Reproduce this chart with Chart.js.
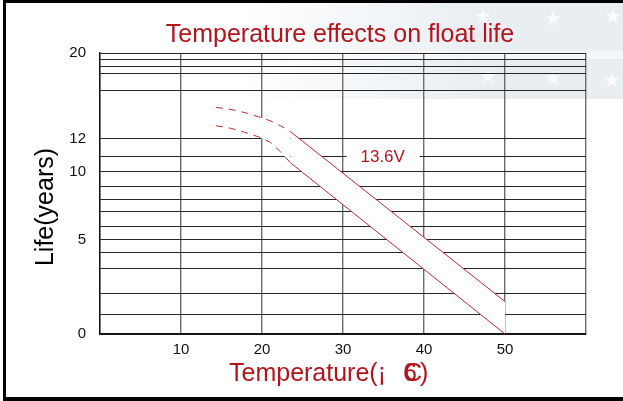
<!DOCTYPE html>
<html>
<head>
<meta charset="utf-8">
<script src="https://cdn.jsdelivr.net/npm/chart.js@4.4.1/dist/chart.umd.min.js"></script>
<style>
html,body{margin:0;padding:0;background:#fff;}
#wrap{width:623px;height:401px;position:relative;}
</style>
</head>
<body>
<div id="wrap"><canvas id="c" width="623" height="401"></canvas></div>
<script>
// ---- data ----
const temperatureGrid = [0, 10, 20, 30, 40, 50, 60];
const temperatureLabels = [10, 20, 30, 40, 50];
const lifeGridValues = [0, 1, 2, 3, 4, 5, 6, 7, 8, 9, 10, 11, 12, 15, 17, 18, 19, 20];
const lifeLabels = [0, 5, 10, 12, 20];

const upperTemp = [14.3, 16.2, 18, 19.6, 21, 22.3, 23.5, 50];
const upperLife = [13.95, 13.82, 13.61, 13.35, 13.11, 12.79, 12.43, 1.6];
const lowerTemp = [14.3, 16.2, 18, 19.6, 21, 22.3, 23.5, 50];
const lowerLife = [12.80, 12.63, 12.36, 12.09, 11.79, 11.25, 10.59, 0];
const dashedUntil = 23.5;          // curves are dashed below this temperature
const bandLabel = '13.6V';
const chartTitle = 'Temperature effects on float life';
const yTitle = 'Life(years)';

// ---- the printed life axis is not linear: position of each grid value along the axis (0..1) ----
const lifeAxisPositions = [0, 0.0698, 0.1459, 0.2335, 0.2883, 0.3367, 0.3829, 0.4342, 0.4769,
  0.5242, 0.5776, 0.6320, 0.6961, 0.8658, 0.9253, 0.9502, 0.9786, 1];

function interp(v, xs, ys) {
  if (v <= xs[0]) return ys[0] + (v - xs[0]) * (ys[1] - ys[0]) / (xs[1] - xs[0]);
  for (let i = 1; i < xs.length; i++) {
    if (v <= xs[i]) return ys[i - 1] + (v - xs[i - 1]) * (ys[i] - ys[i - 1]) / (xs[i] - xs[i - 1]);
  }
  const n = xs.length - 1;
  return ys[n] + (v - xs[n]) * (ys[n] - ys[n - 1]) / (xs[n] - xs[n - 1]);
}

class PiecewiseScale extends Chart.LinearScale {
  determineDataLimits() {
    this.min = lifeGridValues[0];
    this.max = lifeGridValues[lifeGridValues.length - 1];
  }
  buildTicks() {
    this.start = this.min; this.end = this.max;
    return lifeGridValues.map(v => ({ value: v }));
  }
  getPixelForValue(value) {
    return this.getPixelForDecimal(interp(value, lifeGridValues, lifeAxisPositions));
  }
  getValueForPixel(pixel) {
    return interp(this.getDecimalForPixel(pixel), lifeAxisPositions, lifeGridValues);
  }
}
PiecewiseScale.id = 'piecewise';
PiecewiseScale.defaults = {};
Chart.register(PiecewiseScale);

const RED = '#c0272d';
const TITLE_RED = '#b3151b';
const FONT = '"Liberation Sans", Arial, Helvetica, sans-serif';

const decor = {
  id: 'decor',
  beforeDraw(chart) {
    const ctx = chart.ctx;
    ctx.save();
    ctx.fillStyle = '#ffffff';
    ctx.fillRect(0, 0, chart.width, chart.height);
    // faint flag watermark at the top right
    const g = ctx.createLinearGradient(240, 0, 480, 0);
    g.addColorStop(0, 'rgba(233,238,243,0)');
    g.addColorStop(1, 'rgba(233,238,243,1)');
    ctx.fillStyle = g;
    ctx.fillRect(0, 3, chart.width, 48);
    ctx.fillRect(0, 59, chart.width, 40);
    ctx.globalAlpha = 0.5;
    ctx.fillRect(0, 51, chart.width, 8);
    ctx.globalAlpha = 0.7;
    ctx.fillStyle = '#ffffff';
    ctx.font = '20px ' + '"DejaVu Sans", sans-serif';
    ctx.textAlign = 'center';
    ctx.textBaseline = 'middle';
    [[483, 18], [553, 20], [613, 18], [488, 78], [553, 80], [612, 82]].forEach(p => ctx.fillText('\u2605', p[0], p[1]));
    ctx.restore();
  },
  afterDraw(chart) {
    const ctx = chart.ctx;
    const xs = chart.scales.x, ys = chart.scales.y;
    ctx.save();
    // band label with white box over the grid
    const lx = xs.getPixelForValue(34.9), ly = ys.getPixelForValue(11);
    ctx.fillStyle = '#ffffff';
    ctx.fillRect(lx - 36, ly - 7, 73, 14);
    ctx.fillStyle = TITLE_RED;
    ctx.font = '17px ' + FONT;
    ctx.textAlign = 'center';
    ctx.textBaseline = 'middle';
    ctx.fillText(bandLabel, lx, ly + 1);

    // chart title
    ctx.font = '25px ' + FONT;
    ctx.textBaseline = 'alphabetic';
    ctx.fillText(chartTitle, 340, 42);

    // x title (the original shows a garbled degree sign)
    ctx.textAlign = 'left';
    ctx.font = '25px ' + FONT;
    ctx.fillText('Temperature(\u00a1', 229, 381);
    ctx.fillText('6', 403, 381);
    ctx.fillText('C', 404, 381);
    ctx.fillText(')', 420, 381);

    // y title
    ctx.fillStyle = '#000000';
    ctx.translate(53, 207);
    ctx.rotate(-Math.PI / 2);
    ctx.textAlign = 'center';
    ctx.fillText(yTitle, 0, 0);
    ctx.restore();

    // outer frame
    ctx.save();
    ctx.fillStyle = '#000000';
    ctx.fillRect(3, 0, 620, 3);
    ctx.fillRect(3, 0, 3, 401);
    ctx.fillRect(3, 397, 620, 4);
    ctx.restore();
  }
};

const dashSeg = {
  borderDash: c => (c.p1.parsed.x <= dashedUntil + 0.01 ? [7, 6] : [])
};

new Chart(document.getElementById('c'), {
  type: 'line',
  data: {
    datasets: [
      {
        label: 'upper',
        data: upperTemp.map((t, i) => ({ x: t, y: upperLife[i] })),
        borderColor: RED,
        borderWidth: 1,
        pointRadius: 0,
        tension: 0,
        fill: '+1',
        backgroundColor: '#ffffff',
        segment: dashSeg
      },
      {
        label: 'lower',
        data: lowerTemp.map((t, i) => ({ x: t, y: lowerLife[i] })),
        borderColor: RED,
        borderWidth: 1,
        pointRadius: 0,
        tension: 0,
        fill: false,
        segment: dashSeg
      }
    ]
  },
  options: {
    responsive: false,
    animation: false,
    devicePixelRatio: 1,
    layout: { padding: { top: 53, right: 37, bottom: 0, left: 0 } },
    plugins: {
      legend: { display: false },
      tooltip: { enabled: false },
      title: { display: false },
      filler: { drawTime: 'beforeDatasetsDraw' }
    },
    scales: {
      x: {
        type: 'linear',
        min: temperatureGrid[0],
        max: temperatureGrid[temperatureGrid.length - 1],
        afterBuildTicks: s => { s.ticks = temperatureGrid.map(v => ({ value: v })); },
        afterFit: s => { s.height = 67; },
        ticks: {
          autoSkip: false,
          maxRotation: 0,
          padding: 7,
          color: '#111',
          font: { family: FONT, size: 15 },
          callback: v => (temperatureLabels.includes(v) ? String(v) : '')
        },
        grid: { color: '#6d6d6d', lineWidth: 1.4, drawTicks: false },
        border: { color: '#111', width: 1.4 }
      },
      y: {
        type: 'piecewise',
        afterFit: s => { s.width = 100; },
        ticks: {
          autoSkip: false,
          padding: 14,
          color: '#111',
          font: { family: FONT, size: 15 },
          callback: v => (lifeLabels.includes(v) ? String(v) : '')
        },
        grid: { color: '#262626', lineWidth: 1, drawTicks: false },
        border: { color: '#111', width: 1.4 }
      }
    }
  },
  plugins: [decor]
});
</script>
</body>
</html>
